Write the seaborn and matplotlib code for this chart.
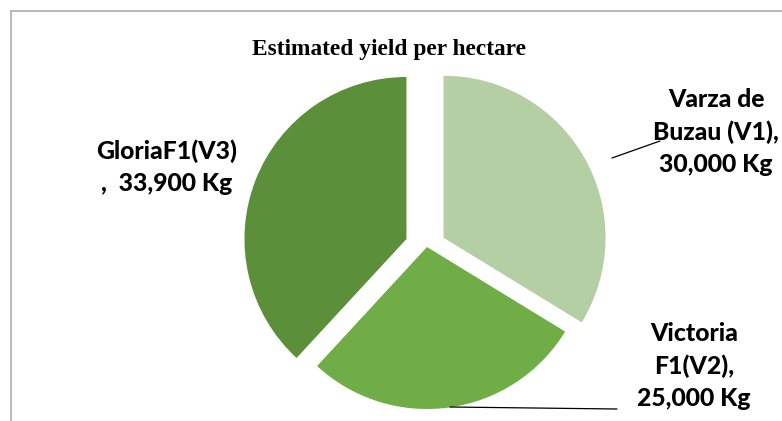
import matplotlib
matplotlib.use("Agg")
import matplotlib.pyplot as plt
import seaborn as sns
from matplotlib.lines import Line2D

sns.set_theme(style="white")

# ---- data ----
title = "Estimated yield per hectare"
varieties = ["Varza de\nBuzau (V1),", "Victoria\nF1(V2),", "GloriaF1(V3)\n, "]
yields_kg = [30000, 25000, 33900]
colors = ["#b4cfa4", "#70ad47", "#5b8f3a"]
explode = [0.117, 0.0, 0.136]

W, H = 782, 421
fig = plt.figure(figsize=(W / 100, H / 100), dpi=100)
fig.patch.set_facecolor("white")

# pie centre (px) and radius (px)
cx, cy, r = 427, 247, 162
lim = 1.5
size = 2 * lim * r
ax = fig.add_axes([(cx - size / 2) / W, (H - cy - size / 2) / H, size / W, size / H])
ax.pie(yields_kg, startangle=90, counterclock=False, colors=colors,
       explode=explode, radius=1.0, wedgeprops=dict(linewidth=0))
ax.set_xlim(-lim, lim)
ax.set_ylim(-lim, lim)
ax.set_aspect("equal")
ax.axis("off")

def fx(px):
    return px / W

def fy(py):
    return 1 - py / H

# frame (top and left visible)
fig.add_artist(Line2D([fx(11), fx(W)], [fy(11), fy(11)], color="#b3b3b3", lw=1.3))
fig.add_artist(Line2D([fx(11), fx(11)], [fy(11), fy(H)], color="#b3b3b3", lw=1.3))

fig.text(fx(389), fy(50), title, ha="center", va="center",
         family="Liberation Serif", weight="bold", fontsize=16.8, color="black")

lab_font = dict(family=["Lato", "DejaVu Sans"], weight=900, fontsize=17.8,
                color="black", ha="center", va="center", linespacing=1.5)

fig.text(fx(716), fy(132), f"{varieties[0]}\n{yields_kg[0]:,} Kg", **lab_font)
fig.text(fx(694), fy(366), f"{varieties[1]}\n{yields_kg[1]:,} Kg", **lab_font)
fig.text(fx(167), fy(167), f"{varieties[2]} {yields_kg[2]:,} Kg", **lab_font)

# leader lines
fig.add_artist(Line2D([fx(612), fx(660)], [fy(158), fy(141)], color="black", lw=0.9))
fig.add_artist(Line2D([fx(450), fx(617)], [fy(407), fy(409)], color="black", lw=0.9))

fig.savefig("out.png", dpi=100, facecolor="white")
